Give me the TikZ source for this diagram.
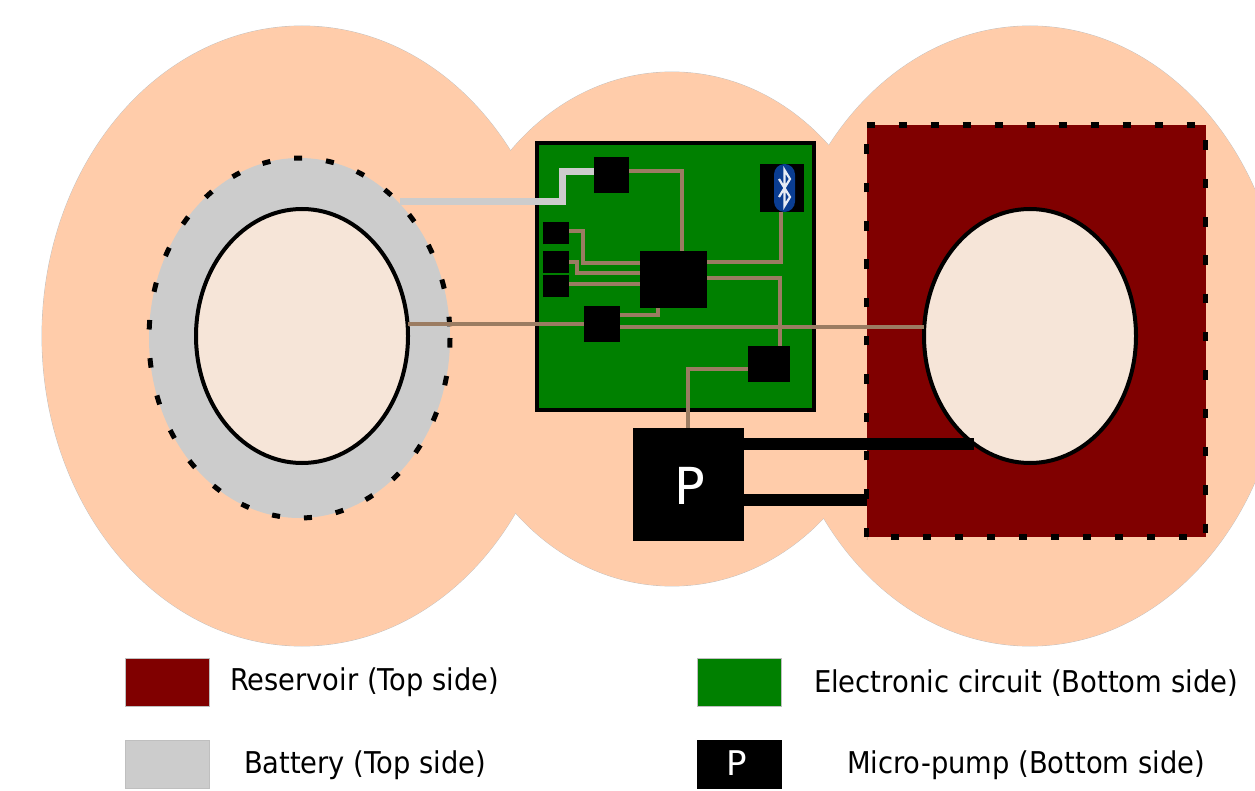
\documentclass[tikz,border=0pt]{standalone}
\usepackage{fontspec}
\usepackage{graphicx}
\setmainfont{DejaVu Sans}
\usetikzlibrary{shapes.geometric}
\definecolor{peach}{HTML}{FFCCAA}
\definecolor{cell}{HTML}{F6E5D8}
\definecolor{maroonr}{HTML}{800000}
\definecolor{greenb}{HTML}{008000}
\definecolor{batt}{HTML}{CCCCCC}
\definecolor{wirec}{HTML}{9B7C62}
\definecolor{btblue}{HTML}{0A3D91}
\newcommand{\lbl}[2]{\resizebox{#1}{\height}{#2}}
\tikzset{
  blk/.style={rectangle,fill=black,inner sep=0pt,outer sep=0pt},
  wire/.style={draw=wirec,line width=4pt},
  battwire/.style={draw=batt,line width=7pt},
  tube/.style={draw=black,line width=12pt},
  cellnode/.style={ellipse,draw=black,line width=4pt,fill=cell,inner sep=0pt,outer sep=0pt,minimum width=212pt,minimum height=254pt},
  legbox/.style={rectangle,draw=black!25,line width=.6pt,inner sep=0pt,outer sep=0pt,minimum width=84pt,minimum height=48pt},
  legtext/.style={anchor=base west,inner sep=0pt,outer sep=0pt,text=black,font=\fontsize{30}{32}\selectfont},
  hd/.style={draw=black,line width=5.5pt},
  vd/.style={draw=black,line width=5pt}
}
\begin{document}
\begin{tikzpicture}[x=1pt,y=-1pt]
\useasboundingbox (0,0) rectangle (1255,791);
\clip (0,0) rectangle (1255,791);
% body
\foreach \cx/\cy/\rx/\ry in {302/336/260/310,672/329/224/257,1030/336/255/310}{
  \draw[black!25,line width=.8pt] (\cx,\cy) ellipse [x radius=\rx,y radius=\ry];}
\foreach \cx/\cy/\rx/\ry in {302/336/260/310,672/329/224/257,1030/336/255/310}{
  \fill[peach] (\cx,\cy) ellipse [x radius=\rx,y radius=\ry];}
% reservoir
\node[rectangle,fill=maroonr,inner sep=0pt,outer sep=0pt,minimum width=339pt,minimum height=412pt] (res) at (1036,331) {};
\draw[hd,dash pattern=on 8pt off 24pt] (res.north west) -- (res.north east);
\draw[vd,dash pattern=on 9.5pt off 28.8pt,dash phase=22.8pt] (res.north east) -- (res.south east);
\draw[hd,dash pattern=on 8pt off 24pt,dash phase=13pt] (res.south east) -- (res.south west);
\draw[vd,dash pattern=on 9.5pt off 28.8pt] (res.south west) -- (res.north west);
% battery
\node[ellipse,fill=batt,inner sep=0pt,outer sep=0pt,minimum width=301pt,minimum height=360pt] (bat) at (299.5,338) {};
\foreach \i in {0,...,29}{
  \pgfmathsetmacro{\ang}{\i*12.18}
  \draw[black,line width=5pt] ([shift={(\ang:150.5 and 180)}]bat.center) arc [start angle=\ang,delta angle=3.05,x radius=150.5,y radius=180];}
% cells
\node[cellnode] (cellL) at (302,336) {};
\node[cellnode] (cellR) at (1030,336) {};
% circuit board
\node[rectangle,draw=black,fill=greenb,line width=4pt,inner sep=0pt,outer sep=0pt,minimum width=277pt,minimum height=267pt] (pcb) at (675.5,276.5) {};
% chips
\node[blk,minimum width=35pt,minimum height=36pt] (top) at (611.5,175) {};
\node[blk,minimum width=44pt,minimum height=48pt] (bt) at (782,188) {};
\node[blk,minimum width=26pt,minimum height=22pt] (s1) at (556,233) {};
\node[blk,minimum width=26pt,minimum height=22pt] (s2) at (556,262) {};
\node[blk,minimum width=26pt,minimum height=22pt] (s3) at (556,286) {};
\node[blk,minimum width=67pt,minimum height=57pt] (main) at (673.5,279.5) {};
\node[blk,minimum width=36pt,minimum height=36pt] (ll) at (602,324) {};
\node[blk,minimum width=42pt,minimum height=36pt] (lr) at (769,364) {};
\node[blk,minimum width=111pt,minimum height=113pt] (pump) at (688.5,484.5) {};
\node[text=white,inner sep=0pt,anchor=base,font=\fontsize{51}{51}\selectfont] (pl) at (690,504) {P};
% bluetooth
\node[rectangle,rounded corners=10.5pt,fill=btblue,inner sep=0pt,outer sep=0pt,minimum width=21pt,minimum height=48pt] (bo) at (784.5,188) {};
\draw[white!90!btblue,line width=2.2pt,line join=miter] ([shift={(-5.5pt,9pt)}]bo.center) -- ([shift={(5.5pt,-9pt)}]bo.center) -- ([shift={(0pt,-18pt)}]bo.center) -- ([shift={(0pt,18pt)}]bo.center) -- ([shift={(5.5pt,9pt)}]bo.center) -- ([shift={(-5.5pt,-9pt)}]bo.center);
% wires
\draw[battwire] (bat.center |- 400,202) ++(100.5,0) -- (562,202) |- (top.west |- 0,172);
\draw[wire] (top.east |- 0,171) -| (682,0 |- main.north);
\draw[wire] (s1.east |- 0,231) -| (583,263) -- (main.west |- 0,263);
\draw[wire] (s2.east |- 0,262) -| (577,273) -- (main.west |- 0,273);
\draw[wire] (s3.east |- 0,284) -- (main.west |- 0,284);
\draw[wire] (main.east |- 0,262) -| (bt.south -| 781,0);
\draw[wire] (main.east |- 0,278) -| (lr.north -| 780,0);
\draw[wire] (ll.east |- 0,315) -| (658,0 |- main.south);
\draw[wire] (cellL.east |- 0,324) -- (ll.west |- 0,324);
\draw[wire] (ll.east |- 0,327) -- (cellR.west |- 0,327);
\draw[wire] (lr.west |- 0,369) -| (688,0 |- pump.north);
% tubes
\draw[tube] (pump.east |- 0,444) -- (974,444);
\draw[tube] (pump.east |- 0,500) -- (res.west |- 0,500);
% legend
\node[legbox,fill=maroonr] (l1) at (167,682) {};
\node[legbox,fill=batt] (l2) at (167,764) {};
\node[legbox,fill=greenb] (l3) at (739,682) {};
\node[legbox,fill=black,draw=black] (l4) at (739,764) {};
\node[text=white,inner sep=0pt,anchor=base,font=\fontsize{34}{34}\selectfont] (l4p) at (737,775) {P};
\node[legtext] (t1) at (230,690) {\lbl{269pt}{Reservoir (Top side)}};
\node[legtext] (t2) at (244,773) {\lbl{242pt}{Battery (Top side)}};
\node[legtext] (t3) at (814,692) {\lbl{424pt}{Electronic circuit (Bottom side)}};
\node[legtext] (t4) at (847,773) {\lbl{358pt}{Micro-pump (Bottom side)}};
\end{tikzpicture}
\end{document}
